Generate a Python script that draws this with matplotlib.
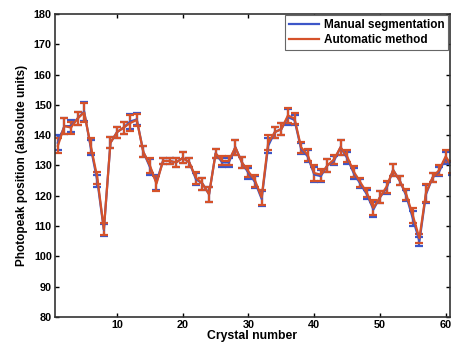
import numpy as np
import matplotlib.pyplot as plt
from matplotlib.lines import Line2D

plt.rcParams['font.family'] = ['Liberation Sans', 'DejaVu Sans']

# crystal index
crystal = np.arange(1, 62)

# automatic method (red)
auto = [136.5, 143.0, 142.5, 145.5, 147.5, 136.5, 126.0, 109.0, 137.5, 141.0,
        142.5, 144.0, 145.0, 134.5, 130.0, 124.0, 131.5, 131.5, 131.0, 132.5,
        131.0, 126.0, 124.0, 120.5, 134.0, 131.5, 131.5, 136.0, 131.0, 128.0,
        125.0, 119.5, 137.5, 141.0, 142.0, 146.5, 145.5, 136.0, 133.5, 127.5,
        127.0, 130.0, 132.0, 136.0, 133.0, 128.0, 124.5, 121.0, 116.0, 119.5,
        123.0, 128.5, 125.0, 120.5, 113.5, 106.0, 121.0, 126.0, 128.5, 133.0,
        129.5]
auto_err = [2.5, 2.5, 2.0, 2.0, 3.0, 2.5, 2.0, 2.0, 1.8, 1.8,
            2.0, 2.5, 2.0, 1.8, 2.5, 2.5, 1.0, 1.0, 1.5, 1.8,
            1.5, 2.0, 2.0, 2.5, 1.5, 1.5, 1.5, 2.5, 1.8, 1.8,
            2.0, 2.5, 2.5, 1.8, 2.0, 2.5, 1.8, 1.8, 2.0, 2.5,
            2.0, 2.0, 1.5, 2.5, 2.0, 1.8, 1.5, 1.5, 2.5, 2.0,
            2.0, 2.0, 1.5, 1.8, 2.5, 1.5, 3.0, 1.5, 1.5, 2.0,
            2.0]

# manual segmentation (blue)
manual = [137.5, 143.0, 143.0, 145.5, 147.8, 136.0, 125.0, 108.8, 137.5, 141.0,
          142.5, 144.5, 145.2, 134.5, 129.5, 124.5, 131.5, 131.5, 131.0, 132.5,
          131.0, 125.5, 124.0, 120.5, 134.0, 131.0, 131.0, 136.0, 131.0, 127.5,
          124.5, 119.0, 136.5, 141.0, 142.0, 146.0, 145.0, 135.5, 133.0, 127.0,
          126.5, 130.0, 131.5, 136.0, 132.5, 127.5, 124.0, 120.5, 115.5, 119.5,
          122.5, 128.5, 125.0, 120.0, 112.5, 105.0, 120.5, 126.0, 128.0, 132.5,
          129.0]
manual_err = auto_err

blue = '#3c56c8'
red = '#d5522a'

fig = plt.figure(figsize=(4.51, 3.48), dpi=100)
ax = fig.add_axes([0.121, 0.089, 0.876, 0.871])

ax.errorbar(crystal, manual, yerr=manual_err, color=blue, lw=1.6,
            elinewidth=1.6, capsize=2.8, capthick=1.6)
ax.errorbar(crystal, auto, yerr=auto_err, color=red, lw=1.6,
            elinewidth=1.6, capsize=2.8, capthick=1.6)

ax.set_xlim(0.5, 60.6)
ax.set_ylim(80, 180)
ax.set_xticks(range(10, 61, 10))
ax.set_yticks(range(80, 181, 10))
ax.tick_params(direction='in', length=3, width=1, top=True, right=True,
               labelsize=7.8, pad=2)
for lbl in ax.get_xticklabels() + ax.get_yticklabels():
    lbl.set_fontweight('bold')
for sp in ax.spines.values():
    sp.set_linewidth(1.2)
    sp.set_color('#333333')

ax.set_xlabel('Crystal number', fontsize=8.8, fontweight='bold', labelpad=0)
ax.set_ylabel('Photopeak position (absolute units)', fontsize=8.5,
              fontweight='bold', labelpad=4)

# legend shows plain lines like the original
handles = [Line2D([], [], color=blue, lw=1.6), Line2D([], [], color=red, lw=1.6)]
leg = ax.legend(handles, ['Manual segmentation', 'Automatic method'],
                loc='upper right', prop={'weight': 'bold', 'size': 8.5},
                fancybox=False, framealpha=1, edgecolor='#666666',
                handlelength=2.5, handletextpad=0.4, borderpad=0.35,
                labelspacing=0.25, borderaxespad=0.1)
leg.get_frame().set_linewidth(0.8)

fig.savefig('out.png', dpi=100)
plt.close(fig)
